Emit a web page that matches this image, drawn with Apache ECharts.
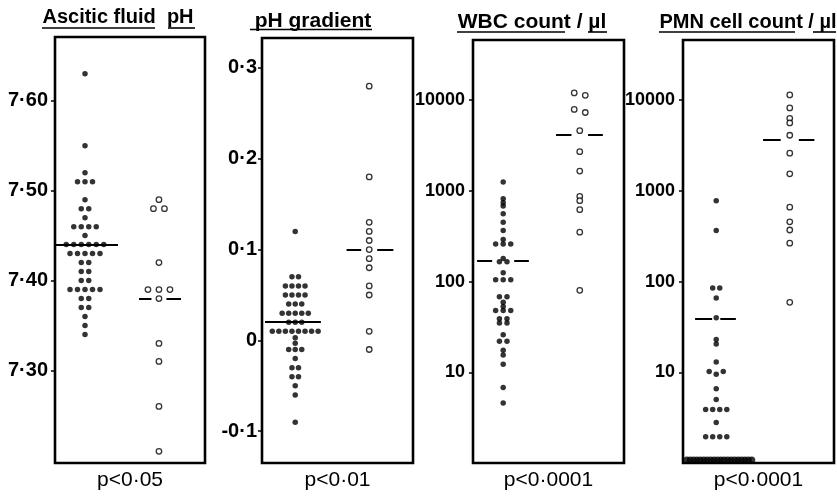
<!DOCTYPE html>
<html>
<head>
<meta charset="utf-8">
<script src="https://cdn.jsdelivr.net/npm/echarts@6/dist/echarts.min.js"></script>
<style>
  html, body { margin: 0; background: #fff; }
  #chart { width: 837px; height: 496px; }
</style>
</head>
<body>
<div id="chart"></div>
<script>
// panel titles and p-values
const panelTitles = ['Ascitic fluid  pH', 'pH gradient', 'WBC count / µl', 'PMN cell count / µl'];
const pLabels = ['p<0·05', 'p<0·01', 'p<0·0001', 'p<0·0001'];

// tick labels
const ascPhTicks = [7.3, 7.4, 7.5, 7.6];
const phGradTicks = [-0.1, 0, 0.1, 0.2, 0.3];
const countTicks = [10, 100, 1000, 10000];

// ascitic fluid pH (filled = sterile, open = infected)
const ascPhFilled = [7.63, 7.55, 7.52, 7.51, 7.51, 7.51, 7.49, 7.48, 7.48, 7.47,
  7.46, 7.46, 7.46, 7.46, 7.45, 7.44, 7.44, 7.44, 7.44, 7.44, 7.44,
  7.43, 7.43, 7.43, 7.43, 7.43, 7.42, 7.42, 7.41, 7.41, 7.40, 7.40,
  7.39, 7.39, 7.39, 7.39, 7.39, 7.38, 7.38, 7.37, 7.37, 7.36, 7.35, 7.34];
const ascPhOpen = [7.49, 7.48, 7.48, 7.42, 7.39, 7.39, 7.39, 7.38, 7.33, 7.31, 7.26, 7.21];
const ascPhMedians = [7.44, 7.38];

// pH gradient
const phGradFilled = [0.12, 0.07, 0.07, 0.06, 0.06, 0.06, 0.06, 0.05, 0.05, 0.05, 0.05,
  0.04, 0.04, 0.04, 0.03, 0.03, 0.03, 0.03, 0.03, 0.02, 0.02, 0.02,
  0.01, 0.01, 0.01, 0.01, 0.01, 0.01, 0.01, 0.01, 0.003, -0.003,
  -0.01, -0.01, -0.01, -0.02, -0.03, -0.03, -0.04, -0.04, -0.05, -0.06, -0.09];
const phGradOpen = [0.28, 0.18, 0.13, 0.12, 0.11, 0.10, 0.09, 0.08, 0.06, 0.05, 0.01, -0.01];
const phGradMedians = [0.02, 0.10];

// WBC count / ul
const wbcFilled = [1250, 820, 740, 680, 560, 450, 365, 290, 260, 260, 260, 180, 165, 165,
  125, 105, 105, 105, 68, 68, 59, 53, 48, 48, 48, 39, 39, 35, 35, 26, 22, 22,
  17.5, 15.5, 12.3, 6.8, 4.6];
const wbcOpen = [12000, 11300, 7900, 7300, 4600, 2700, 1650, 870, 780, 620, 350, 80];
const wbcMedians = [170, 4200];

// PMN cell count / ul
const pmnFilled = [780, 365, 85, 85, 66, 40, 23, 20.5, 13, 10.2, 9.5, 10.2, 6.6, 5.0,
  3.9, 3.9, 3.9, 3.9, 2.8, 1.95, 1.95, 1.95, 1.95];
const pmnFilledZero = [0, 0, 0, 0, 0, 0, 0, 0, 0, 0, 0, 0, 0, 0, 0, 0, 0, 0, 0, 0];
const pmnOpen = [11400, 8200, 6300, 5600, 4100, 2600, 1540, 660, 455, 370, 265, 59];
const pmnMedians = [39, 3650];

// layout
const PX = 15; // px per x unit (panel 150px wide, x axis 0..10)
const LOG_BASELINE = 1.08; // where zero counts sit on the log axis
const grids = [
  { left: 55, top: 37, width: 150, height: 427 },
  { left: 262, top: 38, width: 151, height: 427 },
  { left: 473, top: 40, width: 151, height: 425 },
  { left: 683, top: 40, width: 151, height: 425 }
];
// [start, end, centre, half gap] in x units, filled then open
const medianLayout = [
  [[0, 4.2, 2.0, 0], [5.6, 8.4, 6.93, 0.5]],
  [[0.2, 3.9, 2.2, 0], [5.6, 8.7, 7.1, 0.53]],
  [[0.27, 3.7, 2.0, 0.73], [5.5, 8.6, 7.07, 0.55]],
  [[0.8, 3.5, 2.2, 0.27], [5.3, 8.7, 7.07, 0.6]]
];

// beeswarm: put values of the same row side by side around a centre
function spread(values, center, stepPx, tol, isLog) {
  const rows = [];
  values.forEach(v => {
    const key = isLog ? Math.log10(v) : v;
    let row = rows.find(r => Math.abs(r.key - key) <= tol);
    if (!row) { row = { key, items: [] }; rows.push(row); }
    row.items.push(v);
  });
  const out = [];
  rows.forEach(r => {
    const n = r.items.length;
    r.items.forEach((v, i) => out.push([center + (i - (n - 1) / 2) * stepPx / PX, v]));
  });
  return out;
}

function medianSegments(medians, layout) {
  const segs = [];
  medians.forEach((m, k) => {
    const [x1, x2, c, g] = layout[k];
    if (g === 0) segs.push({ coords: [[x1, m], [x2, m]] });
    else {
      segs.push({ coords: [[x1, m], [c - g, m]] });
      segs.push({ coords: [[c + g, m], [x2, m]] });
    }
  });
  return segs;
}

const FONT = '"Liberation Sans", Arial, sans-serif';
const tickStyle = { lineStyle: { color: '#000', width: 1.5 }, length: 4 };

function yAxisFor(i, type, min, max, ticks, fmt, margin, size) {
  return {
    type, gridIndex: i, min, max,
    axisLine: { show: false },
    splitLine: { show: false },
    axisTick: Object.assign({ show: true, customValues: ticks }, tickStyle),
    axisLabel: {
      customValues: ticks, formatter: fmt, margin,
      color: '#000', fontSize: size, fontWeight: 'bold', fontFamily: FONT
    }
  };
}

const phFmt = v => v.toFixed(2).replace('.', '·');
const gradFmt = v => {
  if (Math.abs(v) < 1e-9) return '0';
  const s = Math.abs(v).toFixed(1).replace('.', '·');
  return v < 0 ? '-' + s : s;
};
const countFmt = v => String(Math.round(v));

const filledStyle = { color: '#000' };
const openStyle = { color: '#fff', borderColor: '#000', borderWidth: 1.3 };

function scatter(i, data, style, size) {
  return {
    type: 'scatter', xAxisIndex: i, yAxisIndex: i, data,
    symbol: 'circle', symbolSize: size || 5.5, itemStyle: style, z: 3, silent: true
  };
}
function medLines(i, segs) {
  return {
    type: 'lines', coordinateSystem: 'cartesian2d', xAxisIndex: i, yAxisIndex: i,
    data: segs, lineStyle: { color: '#000', width: 2, opacity: 1 }, z: 2, silent: true
  };
}

const titleFonts = ['bold 20px ' + FONT, 'bold 21px ' + FONT, 'bold 21px ' + FONT, 'bold 20px ' + FONT];
const titlePos = [[118, 17], [313, 21], [532, 22], [748, 22]];
const underlines = [
  [42, 155, 28], [168, 195, 28],
  [250, 372, 29.5],
  [457, 565, 32], [588, 607, 32],
  [659, 795, 32], [813, 836, 32]
];

const graphic = [];
panelTitles.forEach((t, i) => {
  graphic.push({
    type: 'text', x: titlePos[i][0], y: titlePos[i][1],
    style: { text: t, font: titleFonts[i], fill: '#000', textAlign: 'center', textVerticalAlign: 'middle' }
  });
});
underlines.forEach(u => {
  graphic.push({
    type: 'line', shape: { x1: u[0], y1: u[2], x2: u[1], y2: u[2] },
    style: { stroke: '#000', lineWidth: 1.6 }
  });
});

const chart = echarts.init(document.getElementById('chart'));
chart.setOption({
  animation: false,
  backgroundColor: '#fff',
  graphic,
  grid: grids.map(g => Object.assign({ show: true, borderColor: '#000', borderWidth: 2.6, backgroundColor: 'transparent' }, g)),
  xAxis: grids.map((g, i) => ({
    type: 'value', gridIndex: i, min: 0, max: 10,
    axisLine: { show: false }, axisTick: { show: false }, axisLabel: { show: false }, splitLine: { show: false },
    name: pLabels[i], nameLocation: 'middle', nameGap: 7,
    nameTextStyle: { color: '#000', fontSize: 21, fontFamily: FONT }
  })),
  yAxis: [
    yAxisFor(0, 'value', 7.197, 7.671, ascPhTicks, phFmt, 7, 20),
    yAxisFor(1, 'value', -0.135, 0.333, phGradTicks, gradFmt, 5, 20),
    yAxisFor(2, 'log', 1, 46000, countTicks, countFmt, 8, 18),
    yAxisFor(3, 'log', 1, 46000, countTicks, countFmt, 8, 18)
  ],
  series: [
    medLines(0, medianSegments(ascPhMedians, medianLayout[0])),
    scatter(0, spread(ascPhFilled, 2.0, 7.5, 1e-9, false), filledStyle),
    scatter(0, spread(ascPhOpen, 6.93, 11, 1e-9, false), openStyle),

    medLines(1, medianSegments(phGradMedians, medianLayout[1])),
    scatter(1, spread(phGradFilled, 2.2, 6.5, 1e-9, false), filledStyle),
    scatter(1, spread(phGradOpen, 7.1, 11, 1e-9, false), openStyle),

    medLines(2, medianSegments(wbcMedians, medianLayout[2])),
    scatter(2, spread(wbcFilled, 2.0, 7.5, 0.035, true), filledStyle),
    scatter(2, spread(wbcOpen, 7.07, 11, 0.035, true), openStyle),

    medLines(3, medianSegments(pmnMedians, medianLayout[3])),
    scatter(3, spread(pmnFilled, 2.2, 7, 0.035, true), filledStyle),
    // zero counts drawn as a packed row on the baseline
    scatter(3, spread(pmnFilledZero.map(() => LOG_BASELINE), 2.4, 3.4, 0.035, true), filledStyle, 7),
    scatter(3, spread(pmnOpen, 7.07, 11, 0.035, true), openStyle)
  ]
});
</script>
</body>
</html>
